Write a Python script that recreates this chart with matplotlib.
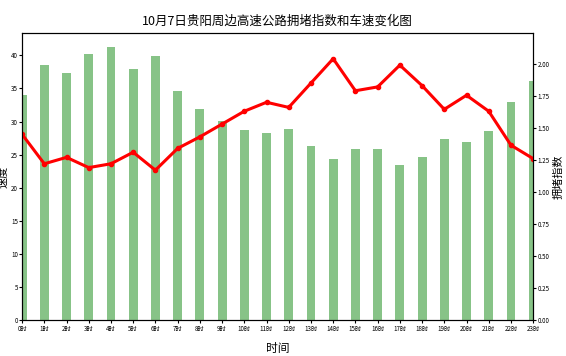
import numpy as np
import matplotlib
matplotlib.use('Agg')
import matplotlib.pyplot as plt

plt.rcParams['font.family'] = ['Noto Sans CJK SC', 'DejaVu Sans']
plt.rcParams['axes.unicode_minus'] = False

# data
hours = ['{}时'.format(h) for h in range(24)]
speed = [34.0, 38.6, 37.3, 40.2, 41.3, 38.0, 39.9, 34.6, 31.9, 30.1, 28.7, 28.2,
         28.8, 26.3, 24.4, 25.8, 25.8, 23.5, 24.7, 27.4, 26.9, 28.5, 32.9, 36.2]
congestion = [1.45, 1.22, 1.27, 1.19, 1.22, 1.31, 1.17, 1.34, 1.43, 1.53, 1.63, 1.70,
              1.66, 1.85, 2.04, 1.79, 1.82, 1.99, 1.83, 1.645, 1.755, 1.63, 1.365, 1.26]

x = np.arange(len(hours))

fig = plt.figure(figsize=(5.66, 3.56), dpi=100)
ax1 = fig.add_axes([0.039, 0.101, 0.903, 0.806])
ax1.bar(x, speed, width=0.4, color='green', alpha=0.47)
ax1.set_xlim(0, 23)
ax1.set_ylim(0, max(speed) * 1.05)
ax1.set_xticks(x)
ax1.set_xticklabels(hours, fontsize=4.5)
ax1.tick_params(axis='y', labelsize=4.5, length=2, pad=1)
ax1.tick_params(axis='x', length=2, pad=1.5)
ax1.set_ylabel('速度', fontsize=8)
ax1.yaxis.set_label_coords(-0.026, 0.5)
ax1.set_xlabel('时间', fontsize=8.5)
ax1.xaxis.set_label_coords(0.5, -0.075)

ax2 = ax1.twinx()
ax2.plot(x, congestion, color='red', lw=2.2, marker='o', markersize=3)
ax2.set_ylim(0, 2.24)
ax2.set_yticks(np.arange(0, 2.01, 0.25))
ax2.set_yticklabels(['{:.2f}'.format(v) for v in np.arange(0, 2.01, 0.25)])
ax2.tick_params(axis='y', labelsize=4.5, length=2, pad=1)
ax2.set_ylabel('拥堵指数', fontsize=8)
ax2.yaxis.set_label_coords(1.04, 0.5)

plt.title('10月7日贵阳周边高速公路拥堵指数和车速变化图', fontsize=9, pad=6)
plt.savefig('out.png', dpi=100)
